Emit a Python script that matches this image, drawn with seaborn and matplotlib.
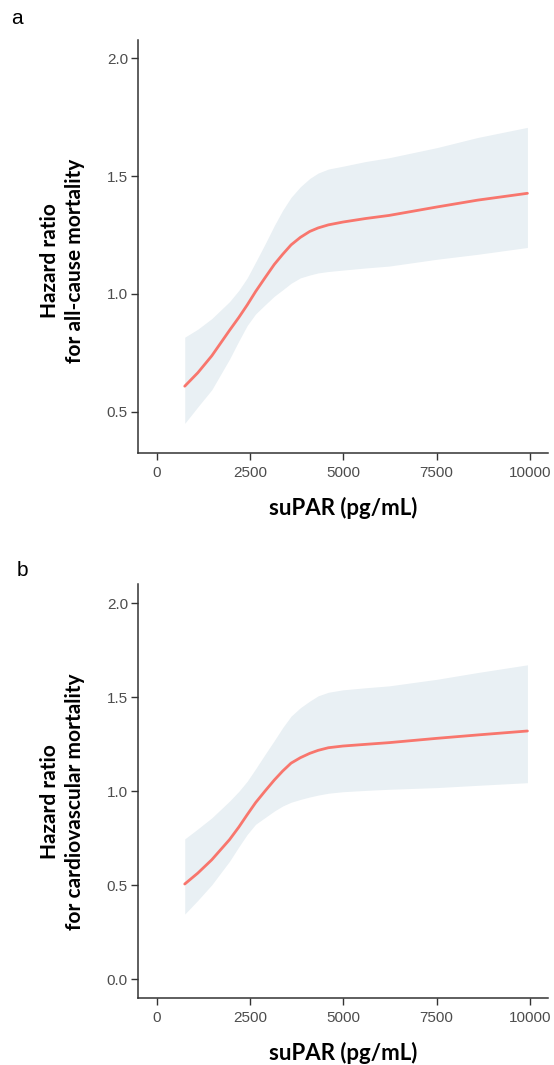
import numpy as np
import pandas as pd
import matplotlib
matplotlib.use("Agg")
import matplotlib.pyplot as plt
import seaborn as sns

# values
supar = [750, 1100, 1475, 1950, 2200, 2425, 2650, 2900, 3150, 3375, 3600,
         3850, 4100, 4325, 4600, 4990, 5600, 6225, 7510, 8600, 9935]

allcause_hr = [0.608, 0.665, 0.737, 0.845, 0.900, 0.953, 1.010, 1.068, 1.125, 1.168, 1.208,
               1.240, 1.265, 1.280, 1.293, 1.305, 1.320, 1.333, 1.369, 1.398, 1.427]
allcause_lo = [0.450, 0.520, 0.593, 0.723, 0.800, 0.866, 0.915, 0.953, 0.990, 1.017, 1.045,
               1.068, 1.080, 1.089, 1.095, 1.101, 1.110, 1.118, 1.147, 1.168, 1.197]
allcause_hi = [0.816, 0.850, 0.895, 0.967, 1.015, 1.068, 1.135, 1.211, 1.290, 1.355, 1.410,
               1.455, 1.490, 1.513, 1.530, 1.542, 1.562, 1.578, 1.621, 1.664, 1.707]

cv_hr = [0.507, 0.565, 0.636, 0.743, 0.810, 0.876, 0.940, 1.001, 1.060, 1.108, 1.150,
         1.179, 1.202, 1.218, 1.232, 1.241, 1.250, 1.259, 1.282, 1.300, 1.321]
cv_lo = [0.347, 0.420, 0.503, 0.628, 0.705, 0.771, 0.825, 0.860, 0.895, 0.922, 0.942,
         0.957, 0.970, 0.980, 0.990, 0.998, 1.005, 1.011, 1.020, 1.032, 1.046]
cv_hi = [0.747, 0.800, 0.859, 0.948, 1.000, 1.054, 1.120, 1.196, 1.270, 1.339, 1.400,
         1.445, 1.480, 1.508, 1.527, 1.540, 1.551, 1.561, 1.596, 1.632, 1.673]

x_ticks = [0, 2500, 5000, 7500, 10000]
ylabels = ["Hazard ratio\nfor all-cause mortality", "Hazard ratio\nfor cardiovascular mortality"]

sns.set_style("white")
plt.rcParams["font.family"] = ["Liberation Sans", "DejaVu Sans"]

W, H = 554, 1065
fig = plt.figure(figsize=(W / 100, H / 100), dpi=100)

line_col = "#F8766D"
band_col = "#E9F0F4"
axis_col = "#333333"

panels = [
    dict(hr=allcause_hr, lo=allcause_lo, hi=allcause_hi, top=40, bottom=453.3,
         ylim=(0.323, 2.078), yticks=[0.5, 1.0, 1.5, 2.0], letter="a", lpos=(16.7, 18.3),
         ylab_y=261, xlab_y=508),
    dict(hr=cv_hr, lo=cv_lo, hi=cv_hi, top=584, bottom=998.3,
         ylim=(-0.101, 2.103), yticks=[0.0, 0.5, 1.0, 1.5, 2.0], letter="b", lpos=(22.7, 570.7),
         ylab_y=802, xlab_y=1053),
]

left, right = 138.3, 548.3
for i, p in enumerate(panels):
    ax = fig.add_axes([left / W, 1 - p["bottom"] / H, (right - left) / W, (p["bottom"] - p["top"]) / H])
    df = pd.DataFrame({"supar": supar, "hr": p["hr"], "lo": p["lo"], "hi": p["hi"]})
    ax.fill_between(df["supar"], df["lo"], df["hi"], color=band_col, linewidth=0, zorder=1)
    sns.lineplot(data=df, x="supar", y="hr", ax=ax, color=line_col, linewidth=2.0, zorder=2)
    ax.set_xlim(-495, 10495)
    ax.set_ylim(*p["ylim"])
    ax.set_xticks(x_ticks)
    ax.set_xticklabels([str(t) for t in x_ticks])
    ax.set_yticks(p["yticks"])
    ax.set_yticklabels([f"{t:.1f}" for t in p["yticks"]])
    ax.set_xlabel("")
    ax.set_ylabel("")
    for s in ["top", "right"]:
        ax.spines[s].set_visible(False)
    for s in ["left", "bottom"]:
        ax.spines[s].set_color(axis_col)
        ax.spines[s].set_linewidth(1.1)
    ax.tick_params(axis="both", which="major", length=5, width=1.0, color=axis_col,
                   labelcolor="#4D4D4D", labelsize=11, bottom=True, left=True)
    ax.tick_params(axis="y", pad=2.5)
    ax.tick_params(axis="x", pad=4)

    fig.text(p["lpos"][0] / W, 1 - p["lpos"][1] / H, p["letter"], fontsize=15,
             ha="center", va="center", color="black")
    fig.text(62.5 / W, 1 - p["ylab_y"] / H, ylabels[i], rotation=90, fontsize=15,
             fontweight="bold", family=["Lato", "DejaVu Sans"], ha="center", va="center",
             linespacing=1.35, color="black")
    fig.text(343.3 / W, 1 - p["xlab_y"] / H, "suPAR (pg/mL)", fontsize=16,
             fontweight="bold", family=["Lato", "DejaVu Sans"], ha="center", va="center",
             color="black")

fig.savefig("out.png", dpi=100)
